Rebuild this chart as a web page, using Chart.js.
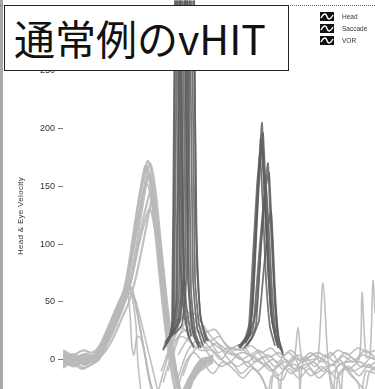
<!DOCTYPE html>
<html>
<head>
<meta charset="utf-8">
<script src="https://cdn.jsdelivr.net/npm/chart.js@4.4.0/dist/chart.umd.min.js"></script>
<style>
  html, body { margin: 0; padding: 0; background: #fff; }
  #wrap { position: relative; width: 375px; height: 389px; overflow: hidden; }
  #vhitChart { position: absolute; left: 0; top: -8px; }
  #scanLeft { position: absolute; left: 0; top: 0; width: 3px; height: 389px; background: #a8a8a8; }
  #scanTop { position: absolute; left: 0; top: 5px; width: 375px; height: 0; border-top: 1px dotted #666; }
  #titleBox {
    position: absolute; left: 4px; top: 5px; width: 285px; height: 66px;
    border: 1px solid #222; background: #fff; box-sizing: border-box;
    font-family: "Noto Sans CJK JP", sans-serif; font-size: 41px; line-height: 62px;
    color: #111; padding-left: 9px; white-space: nowrap;
  }
  #legend { position: absolute; left: 320px; top: 10px; font-family: "Liberation Sans", Arial, sans-serif; font-size: 6.5px; color: #333; }
  #legend div { height: 12px; display: flex; align-items: center; }
  #legend svg { margin-right: 8px; }
  #yTitle {
    position: absolute; left: 20px; top: 216px; transform: translate(-50%, -50%) rotate(-90deg);
    font-family: "Liberation Sans", Arial, sans-serif; font-size: 8px; letter-spacing: 0.3px;
    color: #333; white-space: nowrap;
  }
</style>
</head>
<body>
<div id="wrap">
  <canvas id="vhitChart" width="375" height="406"></canvas>
  <div id="scanLeft"></div>
  <div id="scanTop"></div>
  <div id="titleBox">通常例のvHIT</div>
  <div id="legend"></div>
  <div id="yTitle">Head &amp; Eye Velocity</div>
</div>
<script>
// time in ms, velocity in deg/s  ([t, v] pairs)
var headA = [[0,3],[20,-2],[40,2],[60,0],[74,5],[80,14],[90,24],[104,38],[118,52],[128,66],[140,102],[150,132],[160,156],[170,172],[180,152],[190,112],[200,66],[210,30],[220,2],[230,-22],[240,-34],[256,-18],[276,-4],[300,2]];
var headB = [[0,-4],[20,1],[40,-3],[60,2],[74,8],[86,18],[98,30],[112,45],[124,58],[136,92],[148,128],[158,152],[168,165],[178,148],[188,115],[198,72],[208,34],[218,6],[228,-16],[240,-30],[256,-14],[280,0],[300,-3]];
var headC = [[0,6],[24,2],[46,5],[62,3],[76,10],[88,20],[100,32],[114,47],[126,60],[138,88],[150,118],[160,142],[172,158],[182,140],[192,104],[202,62],[212,24],[222,-6],[234,-28],[250,-22],[270,-6],[300,4]];
var headD = [[0,-1],[22,-6],[44,0],[64,-2],[78,6],[90,16],[104,30],[118,44],[130,57],[142,80],[154,108],[166,132],[176,145],[186,126],[196,92],[206,52],[216,18],[226,-10],[238,-30],[256,-20],[280,-2],[300,0]];
var headE = [[0,1],[20,4],[42,-2],[60,4],[72,4],[86,15],[100,28],[114,42],[126,55],[140,76],[152,100],[164,120],[174,130],[184,112],[194,80],[204,44],[214,14],[224,-12],[236,-28],[252,-16],[276,0],[300,2]];
var headF = [[0,2],[20,-5],[40,-1],[58,3],[72,9],[84,20],[96,33],[110,48],[122,60],[132,84],[144,118],[156,150],[166,168],[176,146],[186,104],[196,60],[206,22],[216,-8],[228,-30],[244,-26],[266,-8],[300,1]];
var headG = [[0,-7],[18,-3],[38,-8],[58,-4],[72,0],[84,10],[98,22],[110,34],[122,48],[134,66],[146,96],[158,130],[172,160],[182,142],[192,108],[202,66],[212,28],[222,-2],[232,-24],[246,-32],[264,-14],[300,-2]];
var headH = [[0,8],[20,4],[40,8],[58,6],[70,10],[82,20],[94,32],[108,46],[120,58],[132,78],[144,108],[156,136],[168,152],[178,134],[188,100],[198,58],[208,22],[218,-4],[230,-26],[244,-30],[262,-12],[300,3]];
var headI = [[0,-2],[22,3],[42,-4],[62,1],[78,4],[92,12],[106,24],[120,38],[132,50],[144,68],[156,92],[168,118],[178,138],[188,122],[198,90],[208,50],[218,16],[228,-12],[240,-30],[260,-18],[286,-2],[300,1]];
var headJ = [[0,5],[20,0],[40,4],[60,2],[76,7],[88,18],[102,32],[116,48],[128,62],[140,94],[152,126],[164,154],[174,170],[184,150],[194,108],[204,62],[214,24],[224,-4],[234,-26],[248,-30],[268,-10],[300,0]];

var vorA = [[0,-3],[20,2],[40,-4],[60,1],[74,6],[86,17],[100,31],[114,45],[126,57],[136,63],[144,52],[152,34],[160,14],[170,-10],[180,-30]];
var vorB = [[0,4],[22,-1],[44,3],[62,-1],[76,8],[90,22],[104,36],[118,50],[128,60],[134,40],[138,10],[142,4],[148,20],[156,18],[166,0],[176,-24],[186,-34]];
var vorC = [[0,0],[24,5],[46,-2],[64,2],[78,9],[92,24],[106,38],[118,49],[130,62],[140,56],[148,40],[156,22],[164,4],[174,-20],[184,-32]];
var vorD = [[0,-6],[20,-2],[42,-7],[60,-3],[74,2],[88,14],[102,28],[116,42],[128,54],[138,58],[146,46],[154,28],[162,8],[172,-16],[182,-30]];
var vorE = [[0,2],[20,-4],[40,1],[60,-2],[74,4],[88,16],[102,30],[116,44],[128,56],[134,62],[140,50],[146,30],[150,-4],[156,-28]];
var vorF = [[0,-5],[22,0],[44,-5],[62,0],[76,5],[90,19],[104,33],[118,47],[130,58],[142,54],[150,44],[158,30],[168,12],[178,-6],[190,-28]];

var baseA = [[200,10],[220,30],[240,36],[260,28],[280,22],[300,14],[320,8],[340,4],[360,6],[380,2],[400,-4],[420,0],[440,-8],[460,2],[480,-2],[500,4],[520,0],[540,-5],[560,3],[580,-2],[600,4],[624,0]];
var baseB = [[200,-20],[214,0],[230,20],[250,26],[270,14],[290,18],[310,6],[330,10],[350,2],[370,-2],[390,6],[410,-6],[428,-12],[434,-30],[440,-10],[460,-4],[480,-8],[500,-2],[520,-10],[540,-4],[550,-12],[556,-30],[562,-6],[580,-10],[600,-6],[624,-8]];
var baseC = [[210,-10],[226,12],[244,32],[262,40],[280,30],[296,20],[316,12],[336,6],[356,0],[376,4],[396,-2],[416,-10],[436,-4],[456,-12],[476,-6],[496,-14],[516,-6],[536,-12],[556,-4],[576,-14],[590,-20],[596,-32],[606,-10],[624,-12]];
var baseD = [[220,-30],[236,-8],[250,8],[268,16],[288,10],[308,14],[328,2],[348,-6],[368,-2],[388,-10],[408,-4],[428,-14],[448,-6],[462,0],[470,28],[478,0],[490,2],[510,6],[530,2],[550,8],[570,4],[590,10],[610,6],[624,8]];
var baseE = [[230,4],[250,18],[270,24],[290,12],[310,4],[330,-4],[350,4],[370,-6],[390,0],[410,4],[430,-2],[450,6],[470,-4],[474,-28],[480,-2],[500,0],[510,2],[520,66],[530,0],[540,-30],[548,-6],[570,-2],[592,0],[598,58],[606,2],[614,4],[620,68],[624,40]];
var baseF = [[240,-14],[256,4],[276,12],[296,2],[316,-6],[336,-2],[356,-12],[376,-6],[396,-14],[414,-30],[422,-10],[446,-2],[466,-10],[486,-4],[506,-12],[526,-6],[546,-16],[566,-8],[586,-18],[604,-26],[612,-12],[624,-6]];
var baseG = [[190,-28],[204,-6],[218,14],[236,28],[254,22],[272,30],[292,16],[312,20],[332,10],[352,12],[372,4],[392,8],[412,2],[432,6],[452,-2],[472,4],[492,-4],[512,2],[532,-6],[552,0],[572,-8],[592,-2],[612,-6],[624,-2]];
var baseH = [[196,-10],[212,8],[228,26],[246,42],[264,34],[284,24],[304,26],[324,14],[344,8],[364,10],[384,-2],[404,2],[424,-6],[444,0],[464,-8],[484,2],[504,-6],[524,4],[544,-2],[564,6],[584,0],[604,8],[624,2]];
var baseI = [[230,-24],[246,-2],[262,6],[282,-4],[300,-12],[320,-2],[340,-8],[360,-16],[380,-8],[400,-18],[410,-30],[418,-14],[438,-18],[452,-8],[472,-16],[492,-8],[512,-16],[530,-10],[544,-30],[552,-12],[572,-6],[592,-14],[612,-4],[624,-10]];
var baseJ = [[206,2],[222,16],[238,20],[258,14],[276,8],[296,8],[316,0],[336,10],[356,8],[376,12],[396,6],[416,10],[436,2],[456,8],[476,0],[496,6],[516,-2],[536,6],[556,-4],[576,2],[596,-6],[616,2],[624,0]];

var saccA = [[206,16],[216,22],[220,36],[224,260],[228,380],[232,320],[238,120],[246,50],[256,20]];
var saccB = [[200,8],[214,20],[222,42],[228,300],[232,460],[236,300],[242,60],[250,22],[262,10]];
var saccC = [[204,14],[218,24],[226,50],[232,280],[238,440],[244,290],[250,70],[258,26],[270,12]];
var saccD = [[210,18],[224,28],[232,60],[238,300],[244,420],[250,280],[256,60],[264,24],[276,10]];
var saccE = [[216,20],[232,34],[240,70],[246,310],[252,450],[258,300],[264,70],[272,30],[284,14]];
var saccF = [[222,22],[238,30],[248,80],[254,320],[258,400],[262,300],[268,80],[276,34],[290,16]];
var saccM = [[202,10],[212,18],[218,30],[222,220],[226,400],[230,260],[234,90],[242,40],[252,18]];
var saccN = [[212,18],[228,30],[236,62],[242,300],[248,430],[254,300],[260,70],[268,28],[280,12]];
var saccO = [[218,20],[234,34],[244,80],[250,330],[256,470],[262,330],[266,120],[274,40],[286,16]];
var saccP = [[208,14],[220,24],[228,54],[234,290],[240,450],[246,300],[252,64],[260,26],[272,10]];
var saccG = [[350,12],[366,16],[374,22],[382,80],[390,150],[398,205],[404,140],[410,80],[418,34],[428,14],[440,6]];
var saccH = [[356,14],[370,20],[378,40],[386,110],[392,165],[396,192],[402,150],[408,95],[416,40],[426,16]];
var saccI = [[362,10],[376,18],[386,30],[396,100],[404,150],[410,170],[414,130],[420,80],[428,24],[438,8]];
var saccJ = [[360,16],[374,24],[382,36],[392,90],[400,130],[406,150],[412,110],[418,60],[426,20],[436,10]];
var saccK = [[368,12],[380,20],[392,34],[402,80],[410,115],[416,128],[420,100],[424,60],[430,20],[440,4]];
var saccL = [[352,10],[364,18],[372,30],[380,90],[388,150],[394,178],[400,130],[406,70],[414,28],[424,12]];
var saccQ = [[358,12],[372,22],[380,50],[388,120],[394,170],[400,196],[406,140],[412,84],[420,30],[430,12]];
var saccR = [[364,14],[378,24],[388,50],[398,110],[406,150],[412,162],[418,110],[424,50],[432,16]];
var saccS = [[354,10],[368,20],[376,36],[384,100],[392,160],[398,186],[402,160],[410,90],[418,36],[430,10]];

var headTraces = [headA, headB, headC, headD, headE, headF, headG, headH, headI, headJ];
var vorTraces = [vorA, vorB, vorC, vorD, vorE, vorF, baseA, baseB, baseC, baseD, baseE, baseF, baseG, baseH, baseI, baseJ];
var saccadeTraces = [saccA, saccB, saccC, saccD, saccE, saccF, saccM, saccN, saccO, saccP,
                     saccG, saccH, saccI, saccJ, saccK, saccL, saccQ, saccR, saccS];
var legendLabels = ['Head', 'Saccade', 'VOR'];
var yTicks = [0, 50, 100, 150, 200, 250, 300];

function toPoints(trace) {
    return trace.map(function (p) { return { x: p[0], y: p[1] }; });
}

var datasets = [];
saccadeTraces.forEach(function (t) {
    datasets.push({ label: 'Saccade', data: toPoints(t), borderColor: 'rgba(95,95,95,0.85)', borderWidth: 1.8, tension: 0.15, order: 0 });
});
headTraces.forEach(function (t) {
    datasets.push({ label: 'Head', data: toPoints(t), borderColor: 'rgba(185,185,185,0.9)', borderWidth: 2.2, tension: 0.35, order: 1 });
});
vorTraces.forEach(function (t) {
    datasets.push({ label: 'VOR', data: toPoints(t), borderColor: 'rgba(185,185,185,0.9)', borderWidth: 1.6, tension: 0.3, order: 1 });
});

// legend (black swatch with a white wave)
var legendEl = document.getElementById('legend');
legendLabels.forEach(function (name) {
    var row = document.createElement('div');
    row.innerHTML = '<svg width="14" height="9"><rect width="14" height="9" fill="#111"/>' +
        '<path d="M1,6 C3.5,1 6,1 7,4.5 S10.5,8 13,3" stroke="#fff" stroke-width="1.4" fill="none"/></svg>' +
        '<span>' + name + '</span>';
    legendEl.appendChild(row);
});

var ctx = document.getElementById('vhitChart').getContext('2d');
new Chart(ctx, {
    type: 'line',
    data: { datasets: datasets },
    options: {
        responsive: false,
        animation: false,
        layout: { padding: 0 },
        elements: { point: { radius: 0 } },
        plugins: { legend: { display: false }, tooltip: { enabled: false } },
        scales: {
            x: { type: 'linear', min: 0, max: 624, display: false },
            y: {
                min: -26,
                max: 311,
                afterFit: function (s) { s.width = 63; },
                afterBuildTicks: function (s) { s.ticks = yTicks.map(function (v) { return { value: v }; }); },
                border: { display: false },
                grid: { drawOnChartArea: false, drawTicks: true, tickLength: 5, tickColor: '#777', tickWidth: 1 },
                ticks: { color: '#333', padding: 3, font: { family: 'Liberation Sans', size: 9 } }
            }
        }
    }
});
</script>
</body>
</html>
